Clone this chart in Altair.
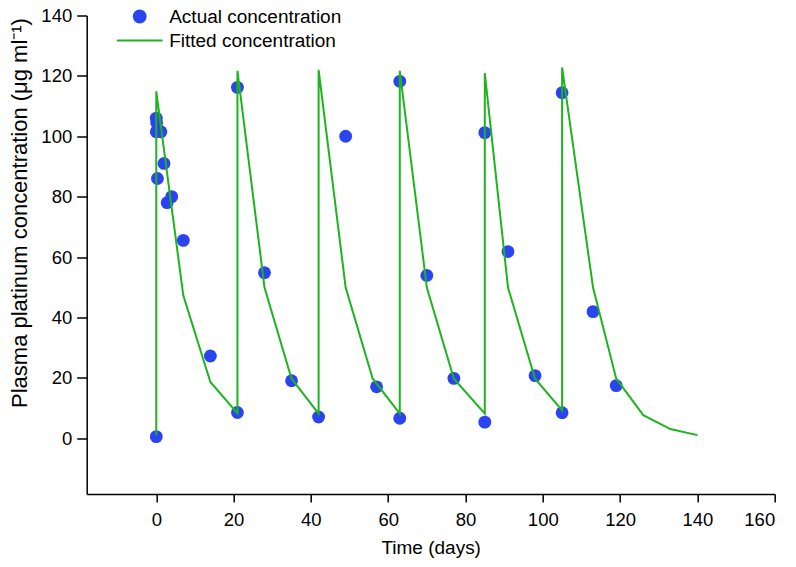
import altair as alt
import pandas as pd

BLUE = "#2B44F2"
GREEN = "#1DB41D"

series_names = ["Actual concentration", "Fitted concentration"]

actual_day = [0, 0, 0.1, 0, 1.2, 0.3, 2, 2.8, 4, 7, 14, 21, 21, 28, 35, 42, 49, 57,
              63, 63, 70, 77, 85, 85, 91, 98, 105, 105, 113, 119]
actual_conc = [0.5, 106, 104.5, 101.5, 101.5, 86, 91, 78, 80, 65.5, 27.2, 8.5, 116.2, 54.8,
               19, 7, 100, 17, 118.2, 6.6, 53.9, 19.8, 101.2, 5.3, 61.8, 20.7, 114.4, 8.4,
               41.9, 17.4]

fitted_day = [0, 0, 7, 14, 21, 21, 28, 35, 42, 42, 49, 56, 63, 63, 70, 77, 85, 85, 91,
              98, 105, 105, 113, 119, 126, 133, 140]
fitted_conc = [1, 114.9, 47.2, 18.6, 8.2, 121.7, 49.9, 19.7, 8.1, 122, 49.9, 19.7, 8.1,
               121.7, 49.9, 19.7, 8.1, 120.9, 49.9, 19.7, 9.2, 122.8, 49.9, 19.7, 7.6, 3, 1]

x_ticks = [0, 20, 40, 60, 80, 100, 120, 140, 160]
y_ticks = [0, 20, 40, 60, 80, 100, 120, 140]

actual_df = pd.DataFrame({"day": actual_day, "conc": actual_conc,
                          "series": [series_names[0]] * len(actual_day)})
fitted_df = pd.DataFrame({"day": fitted_day, "conc": fitted_conc,
                          "idx": list(range(len(fitted_day)))})

FONT = "Liberation Sans"

x_scale = alt.Scale(domain=[-18, 160], nice=False, zero=False)
y_scale = alt.Scale(domain=[-18.5, 140], nice=False, zero=False)

x_axis = alt.Axis(values=x_ticks, title="Time (days)", tickSize=8, labelPadding=24,
                  labelBaseline="alphabetic", titleY=60, titleBaseline="alphabetic",
                  titleFontSize=19)
y_axis = alt.Axis(values=y_ticks, title="Plasma platinum concentration (μg ml⁻¹)",
                  tickSize=10, labelPadding=5, titleFontSize=22, titleX=-60,
                  titleY=197, titleAngle=270, titleAlign="center",
                  titleBaseline="alphabetic")

legend = alt.Legend(title=None, orient="none", legendX=43.5, legendY=-8.5,
                    labelFontSize=19, labelFont=FONT, labelColor="black", labelLimit=0,
                    labelOffset=20, symbolSize=140, symbolStrokeWidth=2,
                    rowPadding=4, padding=0)

color_scale = alt.Scale(domain=series_names, range=[BLUE, GREEN])
shape_scale = alt.Scale(domain=series_names, range=["circle", "M-3.85,0H3.85"])

points = alt.Chart(actual_df).mark_point(filled=True, size=165, opacity=1, strokeWidth=0).encode(
    x=alt.X("day:Q", scale=x_scale, axis=x_axis),
    y=alt.Y("conc:Q", scale=y_scale, axis=y_axis),
    fill=alt.Fill("series:N", scale=color_scale, legend=legend),
    stroke=alt.Stroke("series:N", scale=color_scale, legend=legend),
    shape=alt.Shape("series:N", scale=shape_scale, legend=legend),
)

line = alt.Chart(fitted_df).mark_line(color=GREEN, strokeWidth=2).encode(
    x=alt.X("day:Q", scale=x_scale),
    y=alt.Y("conc:Q", scale=y_scale),
    order=alt.Order("idx:Q"),
)

chart = alt.layer(points, line).properties(
    width=688, height=478.5,
    autosize=alt.AutoSizeParams(type="none"),
    padding={"left": 78.7, "top": 7.5, "right": 13, "bottom": 65},
    background="white",
).configure_view(stroke=None).configure_axis(
    grid=False, domainColor="black", domainWidth=1.5, tickColor="black", tickWidth=1.5,
    labelFont=FONT, labelFontSize=18.5, labelColor="black",
    titleFont=FONT, titleFontWeight="normal", titleColor="black",
)

chart.save("out.html", embed_options={"renderer": "svg", "actions": False})
